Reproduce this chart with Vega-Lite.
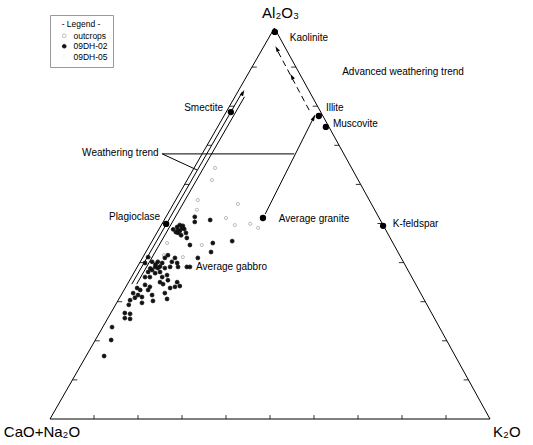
{
  "$schema": "https://vega.github.io/schema/vega-lite/v6.json",
  "width": 440,
  "height": 391,
  "autosize": {"type": "none"},
  "padding": {"left": 50, "top": 28, "right": 43, "bottom": 26},
  "background": "white",
  "config": {"view": {"stroke": null}, "font": "Liberation Sans"},
  "datasets": {
    "edges": [
      {"x": 0, "y": 0, "x2": 100, "y2": 0},
      {"x": 0, "y": 0, "x2": 51, "y2": 100},
      {"x": 100, "y": 0, "x2": 51, "y2": 100}
    ],
    "ticks": [
      {"x": 10, "y": 0, "x2": 10, "y2": 1}, {"x": 20, "y": 0, "x2": 20, "y2": 1}, {"x": 30, "y": 0, "x2": 30, "y2": 1},
      {"x": 40, "y": 0, "x2": 40, "y2": 1}, {"x": 50, "y": 0, "x2": 50, "y2": 1}, {"x": 60, "y": 0, "x2": 60, "y2": 1},
      {"x": 70, "y": 0, "x2": 70, "y2": 1}, {"x": 80, "y": 0, "x2": 80, "y2": 1}, {"x": 90, "y": 0, "x2": 90, "y2": 1},
      {"x": 5.1, "y": 10, "x2": 6.2, "y2": 10}, {"x": 10.2, "y": 20, "x2": 11.3, "y2": 20}, {"x": 15.3, "y": 30, "x2": 16.4, "y2": 30},
      {"x": 20.4, "y": 40, "x2": 21.5, "y2": 40}, {"x": 25.5, "y": 50, "x2": 26.6, "y2": 50}, {"x": 30.6, "y": 60, "x2": 31.7, "y2": 60},
      {"x": 35.7, "y": 70, "x2": 36.8, "y2": 70}, {"x": 40.8, "y": 80, "x2": 41.9, "y2": 80}, {"x": 45.9, "y": 90, "x2": 47.0, "y2": 90},
      {"x": 95.1, "y": 10, "x2": 94.0, "y2": 10}, {"x": 90.2, "y": 20, "x2": 89.1, "y2": 20}, {"x": 85.3, "y": 30, "x2": 84.2, "y2": 30},
      {"x": 80.4, "y": 40, "x2": 79.3, "y2": 40}, {"x": 75.5, "y": 50, "x2": 74.4, "y2": 50}, {"x": 70.6, "y": 60, "x2": 69.5, "y2": 60},
      {"x": 65.7, "y": 70, "x2": 64.6, "y2": 70}, {"x": 60.8, "y": 80, "x2": 59.7, "y2": 80}, {"x": 55.9, "y": 90, "x2": 54.8, "y2": 90}
    ],
    "lines": [
      {"name": "weathering A", "x": 18.6, "y": 34.5, "x2": 43.7, "y2": 83.6},
      {"name": "weathering B", "x": 19.7, "y": 34.5, "x2": 44.2, "y2": 82.4},
      {"name": "granite to illite", "x": 48.9, "y": 52.4, "x2": 60.2, "y2": 77.7},
      {"name": "leader horizontal", "x": 25.5, "y": 67.8, "x2": 55.5, "y2": 67.8},
      {"name": "leader diagonal", "x": 25.5, "y": 67.8, "x2": 33.4, "y2": 63.7}
    ],
    "dashed": [
      {"x": 58.9, "y": 79.0, "x2": 51.6, "y2": 94.4}
    ],
    "arrowheads": [
      {"arrow": "up-right", "x": 43.8, "y": 83.4},
      {"arrow": "up-right", "x": 59.9, "y": 77.0},
      {"arrow": "up-left", "x": 51.6, "y": 94.6},
      {"arrow": "up-left", "x": 55.0, "y": 87.5}
    ],
    "samples": [
      {"series": "outcrops", "x": 36.8, "y": 61.1}, {"series": "outcrops", "x": 33.6, "y": 56.0}, {"series": "outcrops", "x": 42.7, "y": 55.0},
      {"series": "outcrops", "x": 33.4, "y": 53.5}, {"series": "outcrops", "x": 42.0, "y": 49.6}, {"series": "outcrops", "x": 45.5, "y": 49.9},
      {"series": "outcrops", "x": 47.3, "y": 48.9}, {"series": "outcrops", "x": 34.5, "y": 44.5}, {"series": "outcrops", "x": 26.6, "y": 45.0},
      {"series": "outcrops", "x": 25.9, "y": 41.9}, {"series": "outcrops", "x": 30.2, "y": 41.4}, {"series": "outcrops", "x": 37.5, "y": 64.2},
      {"series": "outcrops", "x": 40.0, "y": 51.4},
      {"series": "09DH-02", "x": 32.9, "y": 51.7}, {"series": "09DH-02", "x": 32.9, "y": 50.4}, {"series": "09DH-02", "x": 36.4, "y": 50.9},
      {"series": "09DH-02", "x": 28.9, "y": 49.1}, {"series": "09DH-02", "x": 29.5, "y": 49.6}, {"series": "09DH-02", "x": 29.1, "y": 48.3},
      {"series": "09DH-02", "x": 30.0, "y": 48.8}, {"series": "09DH-02", "x": 30.5, "y": 48.6}, {"series": "09DH-02", "x": 29.1, "y": 47.6},
      {"series": "09DH-02", "x": 30.9, "y": 47.6}, {"series": "09DH-02", "x": 28.6, "y": 47.8}, {"series": "09DH-02", "x": 29.5, "y": 48.1},
      {"series": "09DH-02", "x": 30.2, "y": 49.4}, {"series": "09DH-02", "x": 31.1, "y": 46.3}, {"series": "09DH-02", "x": 31.8, "y": 44.5},
      {"series": "09DH-02", "x": 37.0, "y": 45.0}, {"series": "09DH-02", "x": 36.6, "y": 42.7}, {"series": "09DH-02", "x": 33.6, "y": 41.2},
      {"series": "09DH-02", "x": 41.4, "y": 45.5}, {"series": "09DH-02", "x": 22.3, "y": 41.4}, {"series": "09DH-02", "x": 24.5, "y": 40.2},
      {"series": "09DH-02", "x": 25.5, "y": 39.9}, {"series": "09DH-02", "x": 27.7, "y": 40.2}, {"series": "09DH-02", "x": 28.9, "y": 39.9},
      {"series": "09DH-02", "x": 29.1, "y": 38.9}, {"series": "09DH-02", "x": 27.3, "y": 38.9}, {"series": "09DH-02", "x": 23.9, "y": 38.9},
      {"series": "09DH-02", "x": 23.2, "y": 38.1}, {"series": "09DH-02", "x": 22.3, "y": 37.6}, {"series": "09DH-02", "x": 23.9, "y": 37.3},
      {"series": "09DH-02", "x": 25.0, "y": 37.6}, {"series": "09DH-02", "x": 21.6, "y": 36.3}, {"series": "09DH-02", "x": 22.7, "y": 36.3},
      {"series": "09DH-02", "x": 25.5, "y": 36.3}, {"series": "09DH-02", "x": 26.6, "y": 36.8}, {"series": "09DH-02", "x": 31.1, "y": 38.9},
      {"series": "09DH-02", "x": 31.8, "y": 38.9}, {"series": "09DH-02", "x": 26.8, "y": 35.5}, {"series": "09DH-02", "x": 25.0, "y": 35.0},
      {"series": "09DH-02", "x": 25.7, "y": 34.5}, {"series": "09DH-02", "x": 19.8, "y": 33.5}, {"series": "09DH-02", "x": 20.5, "y": 33.0},
      {"series": "09DH-02", "x": 18.9, "y": 32.2}, {"series": "09DH-02", "x": 20.0, "y": 31.7}, {"series": "09DH-02", "x": 19.3, "y": 31.0},
      {"series": "09DH-02", "x": 20.9, "y": 31.2}, {"series": "09DH-02", "x": 18.2, "y": 30.4}, {"series": "09DH-02", "x": 22.7, "y": 33.8},
      {"series": "09DH-02", "x": 22.3, "y": 33.0}, {"series": "09DH-02", "x": 23.2, "y": 31.7}, {"series": "09DH-02", "x": 28.9, "y": 35.0},
      {"series": "09DH-02", "x": 29.5, "y": 34.0}, {"series": "09DH-02", "x": 28.4, "y": 33.8}, {"series": "09DH-02", "x": 27.3, "y": 33.5},
      {"series": "09DH-02", "x": 26.1, "y": 32.2}, {"series": "09DH-02", "x": 26.6, "y": 30.7}, {"series": "09DH-02", "x": 23.4, "y": 30.2},
      {"series": "09DH-02", "x": 20.9, "y": 29.7}, {"series": "09DH-02", "x": 17.9, "y": 29.2}, {"series": "09DH-02", "x": 17.0, "y": 27.1},
      {"series": "09DH-02", "x": 18.2, "y": 26.9}, {"series": "09DH-02", "x": 17.0, "y": 25.8}, {"series": "09DH-02", "x": 18.2, "y": 25.6},
      {"series": "09DH-02", "x": 14.1, "y": 23.5}, {"series": "09DH-02", "x": 13.9, "y": 20.2}, {"series": "09DH-02", "x": 12.3, "y": 16.1},
      {"series": "09DH-02", "x": 26.1, "y": 41.2}, {"series": "09DH-02", "x": 26.8, "y": 41.9}, {"series": "09DH-02", "x": 28.4, "y": 41.2},
      {"series": "09DH-02", "x": 21.6, "y": 39.9}, {"series": "09DH-02", "x": 23.2, "y": 40.2}, {"series": "09DH-02", "x": 26.1, "y": 38.6},
      {"series": "09DH-02", "x": 24.5, "y": 38.6}, {"series": "09DH-02", "x": 21.6, "y": 34.3}, {"series": "09DH-02", "x": 24.0, "y": 39.5},
      {"series": "09DH-02", "x": 25.0, "y": 39.0}, {"series": "09DH-02", "x": 22.8, "y": 38.5}, {"series": "09DH-02", "x": 29.8, "y": 47.0},
      {"series": "09DH-02", "x": 28.0, "y": 48.5}
    ],
    "minerals": [
      {"mineral": "Kaolinite", "x": 51.1, "y": 99.0},
      {"mineral": "Smectite", "x": 41.1, "y": 78.5},
      {"mineral": "Illite", "x": 61.1, "y": 77.5},
      {"mineral": "Muscovite", "x": 62.7, "y": 74.7},
      {"mineral": "Average granite", "x": 48.4, "y": 51.4},
      {"mineral": "K-feldspar", "x": 75.7, "y": 49.4},
      {"mineral": "Plagioclase", "x": 26.4, "y": 49.9}
    ],
    "labels": [
      {"kind": "note", "text": "Kaolinite", "x": 54.5, "y": 97.4},
      {"kind": "note", "text": "Advanced weathering trend", "x": 66.4, "y": 88.7},
      {"kind": "note", "text": "Smectite", "x": 30.5, "y": 79.5},
      {"kind": "note", "text": "Illite", "x": 62.7, "y": 79.5},
      {"kind": "note", "text": "Muscovite", "x": 64.3, "y": 75.4},
      {"kind": "note", "text": "Weathering trend", "x": 7.3, "y": 68.0},
      {"kind": "note", "text": "Plagioclase", "x": 13.4, "y": 51.7},
      {"kind": "note", "text": "Average granite", "x": 52.0, "y": 51.2},
      {"kind": "note", "text": "K-feldspar", "x": 77.9, "y": 49.9},
      {"kind": "note", "text": "Average gabbro", "x": 33.2, "y": 38.9},
      {"kind": "apex", "text": "Al₂O₃", "x": 48.2, "y": 103.8},
      {"kind": "apex", "text": "CaO+Na₂O", "x": -10.5, "y": -3.3},
      {"kind": "apex", "text": "K₂O", "x": 100.7, "y": -3.3}
    ]
  },
  "layer": [
    {
      "data": {"name": "edges"},
      "mark": {"type": "rule", "color": "#000000", "strokeWidth": 1},
      "encoding": {
        "x": {"field": "x", "type": "quantitative", "scale": {"domain": [0, 100], "nice": false, "zero": false}, "axis": null},
        "y": {"field": "y", "type": "quantitative", "scale": {"domain": [0, 100], "nice": false, "zero": false}, "axis": null},
        "x2": {"field": "x2"},
        "y2": {"field": "y2"}
      }
    },
    {
      "data": {"name": "ticks"},
      "mark": {"type": "rule", "color": "#000000", "strokeWidth": 0.8},
      "encoding": {
        "x": {"field": "x", "type": "quantitative"},
        "y": {"field": "y", "type": "quantitative"},
        "x2": {"field": "x2"},
        "y2": {"field": "y2"}
      }
    },
    {
      "data": {"name": "lines"},
      "mark": {"type": "rule", "color": "#000000", "strokeWidth": 1},
      "encoding": {
        "x": {"field": "x", "type": "quantitative"},
        "y": {"field": "y", "type": "quantitative"},
        "x2": {"field": "x2"},
        "y2": {"field": "y2"}
      }
    },
    {
      "data": {"name": "dashed"},
      "mark": {"type": "rule", "color": "#000000", "strokeWidth": 1, "strokeDash": [6, 4]},
      "encoding": {
        "x": {"field": "x", "type": "quantitative"},
        "y": {"field": "y", "type": "quantitative"},
        "x2": {"field": "x2"},
        "y2": {"field": "y2"}
      }
    },
    {
      "data": {"name": "arrowheads"},
      "transform": [{"filter": "datum.arrow === 'up-right'"}],
      "mark": {"type": "point", "shape": "M0,-1L0.55,0.8L-0.55,0.8Z", "filled": true, "color": "#000000", "size": 45, "angle": 28, "opacity": 1},
      "encoding": {
        "x": {"field": "x", "type": "quantitative"},
        "y": {"field": "y", "type": "quantitative"}
      }
    },
    {
      "data": {"name": "arrowheads"},
      "transform": [{"filter": "datum.arrow === 'up-left'"}],
      "mark": {"type": "point", "shape": "M0,-1L0.55,0.8L-0.55,0.8Z", "filled": true, "color": "#000000", "size": 45, "angle": -29, "opacity": 1},
      "encoding": {
        "x": {"field": "x", "type": "quantitative"},
        "y": {"field": "y", "type": "quantitative"}
      }
    },
    {
      "data": {"name": "samples"},
      "mark": {"type": "circle", "strokeWidth": 0.8, "opacity": 1},
      "encoding": {
        "x": {"field": "x", "type": "quantitative"},
        "y": {"field": "y", "type": "quantitative"},
        "fill": {
          "field": "series", "type": "nominal", "title": "- Legend -",
          "scale": {"domain": ["outcrops", "09DH-02", "09DH-05"], "range": ["#ffffff", "#111111", "#ffffff"]},
          "legend": {
            "orient": "none", "legendX": 0, "legendY": -13,
            "strokeColor": "#999999", "padding": 5,
            "titleFontSize": 8.5, "titleFontWeight": "normal", "titleAnchor": "middle", "titlePadding": 3,
            "labelFontSize": 8.5, "symbolSize": 14, "symbolStrokeWidth": 0.8, "rowPadding": 1.5,
            "symbolOffset": 5, "labelOffset": 5,
            "encode": {"legend": {"update": {"strokeDash": {"value": [1, 2]}}}}
          }
        },
        "stroke": {
          "field": "series", "type": "nominal", "title": "- Legend -",
          "scale": {"domain": ["outcrops", "09DH-02", "09DH-05"], "range": ["#aaaaaa", "#111111", "#f2f2f2"]}
        },
        "size": {"condition": {"test": "datum.series === 'outcrops'", "value": 10}, "value": 15}
      }
    },
    {
      "data": {"name": "minerals"},
      "mark": {"type": "circle", "color": "#000000", "size": 40, "opacity": 1},
      "encoding": {
        "x": {"field": "x", "type": "quantitative"},
        "y": {"field": "y", "type": "quantitative"}
      }
    },
    {
      "data": {"name": "labels"},
      "transform": [{"filter": "datum.kind === 'note'"}],
      "mark": {"type": "text", "align": "left", "baseline": "middle", "fontSize": 10, "font": "Liberation Sans", "color": "#000000"},
      "encoding": {
        "x": {"field": "x", "type": "quantitative"},
        "y": {"field": "y", "type": "quantitative"},
        "text": {"field": "text"}
      }
    },
    {
      "data": {"name": "labels"},
      "transform": [{"filter": "datum.kind === 'apex'"}],
      "mark": {"type": "text", "align": "left", "baseline": "middle", "fontSize": 15, "font": "Liberation Sans", "color": "#000000"},
      "encoding": {
        "x": {"field": "x", "type": "quantitative"},
        "y": {"field": "y", "type": "quantitative"},
        "text": {"field": "text"}
      }
    }
  ]
}
